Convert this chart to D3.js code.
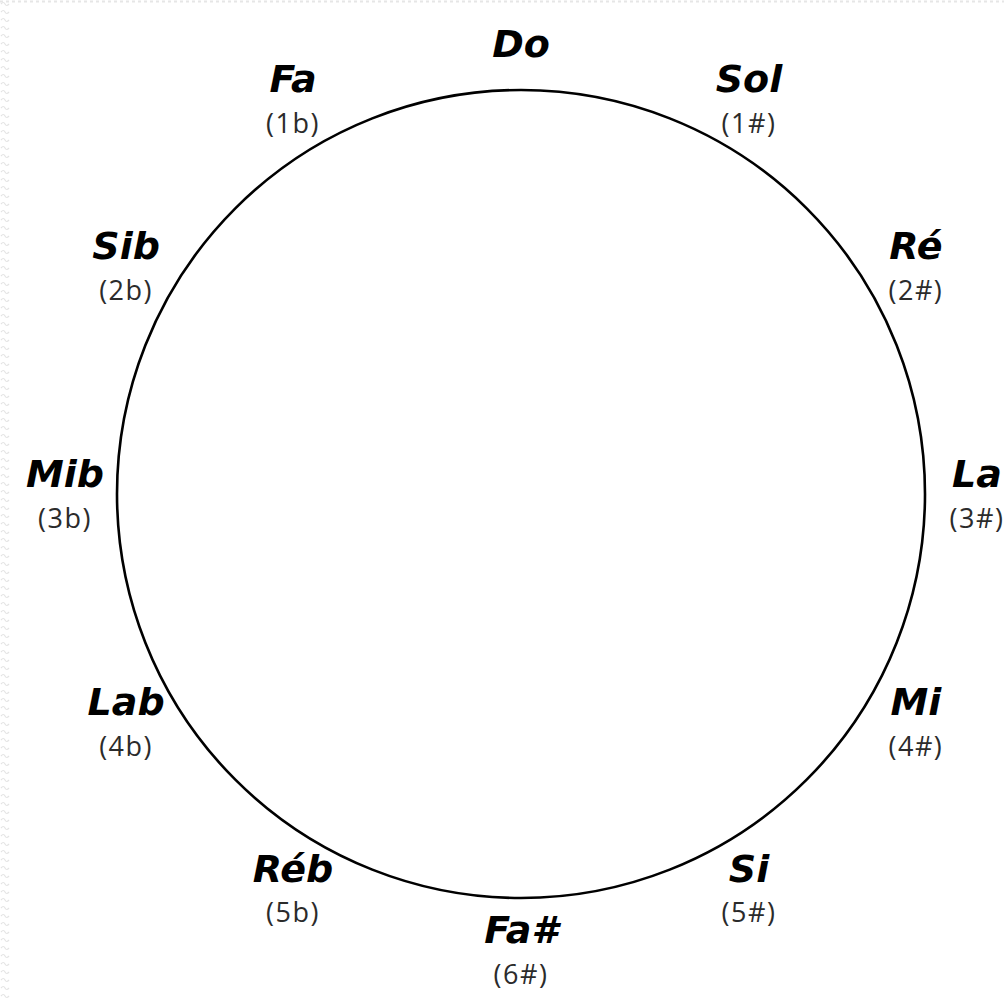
<!DOCTYPE html>
<html>
<head>
<meta charset="utf-8">
<script src="https://cdn.jsdelivr.net/npm/d3@7"></script>
<style>
  body { margin: 0; background: #fff; }
  .key { font-family: "DejaVu Sans", sans-serif; font-weight: 700; font-style: italic; font-size: 38px; fill: #000; }
  .sig { font-family: "Open Sans", sans-serif; font-weight: 400; font-size: 27px; fill: #2b2b2b; letter-spacing: 1.5px; }
</style>
</head>
<body>
<div id="chart"></div>
<script>
// Circle of fifths, clockwise from the top
const keys = ["Do", "Sol", "Ré", "La", "Mi", "Si", "Fa#", "Réb", "Lab", "Mib", "Sib", "Fa"];
const signatures = ["", "(1#)", "(2#)", "(3#)", "(4#)", "(5#)", "(6#)", "(5b)", "(4b)", "(3b)", "(2b)", "(1b)"];

const width = 1004;
const height = 998;
const cx = 521, cy = 494;
const radius = 404;
const labelRadius = 456;

const svg = d3.select("#chart")
    .append("svg")
        .attr("width", width)
        .attr("height", height)
;

// faint torn-edge look on top and left borders
const defs = svg.append("defs");
const wave = defs.append("pattern")
    .attr("id", "wave")
    .attr("width", 10)
    .attr("height", 8)
    .attr("patternUnits", "userSpaceOnUse");
wave.append("path")
    .attr("d", "M1,4 Q3.5,1 5,4 T9,4")
    .attr("fill", "none")
    .attr("stroke", "#e4e4e4")
    .attr("stroke-width", 1.2);
svg.append("rect")
    .attr("x", 0).attr("y", 0)
    .attr("width", 10).attr("height", height)
    .attr("fill", "url(#wave)");
svg.append("line")
    .attr("x1", 0).attr("x2", width)
    .attr("y1", 1.5).attr("y2", 1.5)
    .attr("stroke", "#e6e6e6")
    .attr("stroke-width", 2)
    .attr("stroke-dasharray", "3 3");

// angle for each key
const angle = d3.scaleLinear()
    .domain([0, keys.length])
    .range([0, 2 * Math.PI]);

svg.append("circle")
    .attr("cx", cx)
    .attr("cy", cy)
    .attr("r", radius)
    .attr("fill", "none")
    .attr("stroke", "#000")
    .attr("stroke-width", 2.6)
;

const labels = svg.append("g")
    .attr("id", "labels")
    .selectAll("g.label")
        .data(keys.map((k, i) => ({ key: k, sig: signatures[i], i })))
        .join("g")
            .attr("class", "label")
            .attr("transform", d => {
                const a = angle(d.i);
                return `translate(${cx + labelRadius * Math.sin(a)},${cy - labelRadius * Math.cos(a)})`;
            })
;

labels.append("text")
    .attr("class", "key")
    .attr("text-anchor", "middle")
    .attr("dominant-baseline", "central")
    .attr("y", d => d.sig ? -20 : 6)
    .text(d => d.key)
;

labels.filter(d => d.sig)
    .append("text")
        .attr("class", "sig")
        .attr("text-anchor", "middle")
        .attr("dominant-baseline", "central")
        .attr("y", 23)
        .text(d => d.sig)
;
</script>
</body>
</html>
